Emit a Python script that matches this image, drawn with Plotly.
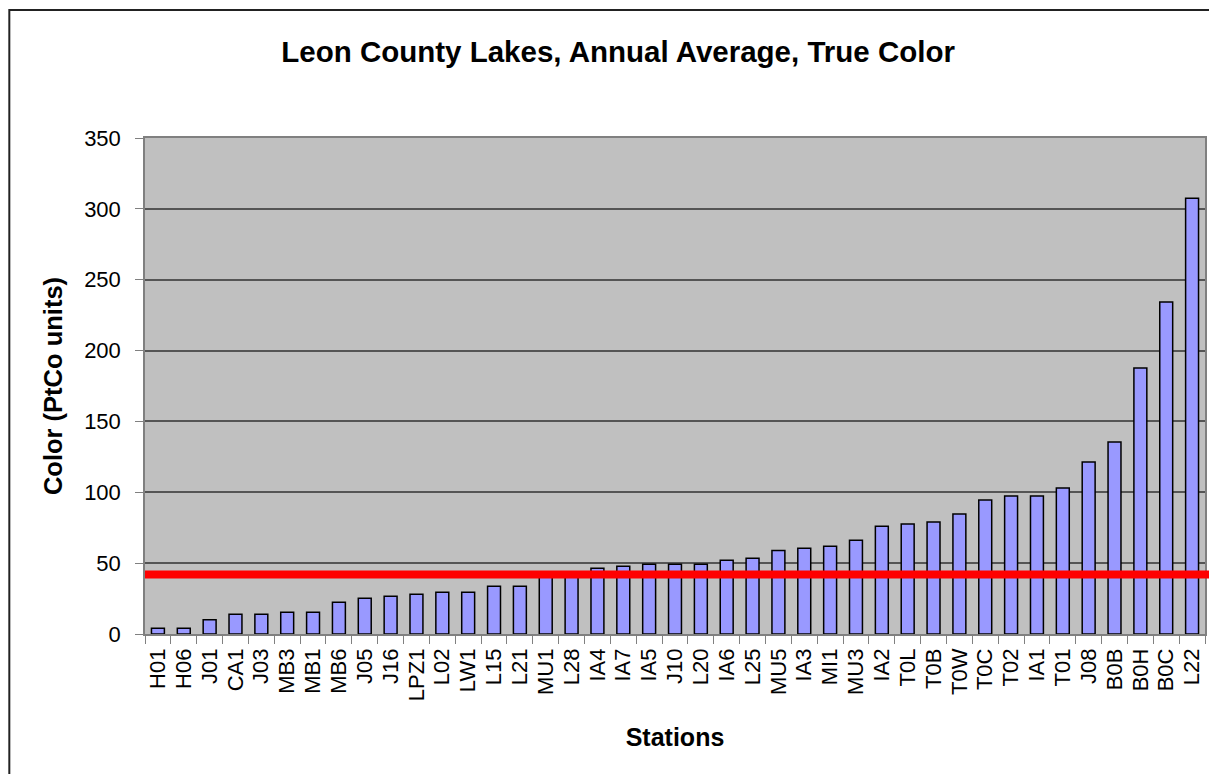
import plotly.graph_objects as go

stations = ['H01', 'H06', 'J01', 'CA1', 'J03', 'MB3', 'MB1', 'MB6', 'J05', 'J16',
            'LPZ1', 'L02', 'LW1', 'L15', 'L21', 'MU1', 'L28', 'IA4', 'IA7', 'IA5',
            'J10', 'L20', 'IA6', 'L25', 'MU5', 'IA3', 'MI1', 'MU3', 'IA2', 'T0L',
            'T0B', 'T0W', 'T0C', 'T02', 'IA1', 'T01', 'J08', 'B0B', 'B0H', 'B0C', 'L22']
color_avg = [4, 4, 10, 14, 14, 15.4, 15.4, 22.4, 25.3, 26.7,
             28, 29.5, 29.5, 33.7, 33.7, 41, 42, 46.4, 47.8, 49.3,
             49.3, 49.3, 52, 53.5, 59, 60.5, 62, 66.2, 76, 77.6,
             79, 84.7, 94.6, 97.4, 97.4, 103, 121.4, 135.5, 187.7, 234.3, 307.5]
threshold = 42
y_ticks = [0, 50, 100, 150, 200, 250, 300, 350]

font_family = 'Arial, Liberation Sans, sans-serif'

fig = go.Figure(data=[go.Bar(
    x=stations,
    y=color_avg,
    marker=dict(color='#9999FF', line=dict(color='#000000', width=1.5)),
    showlegend=False
)])

fig.add_shape(type='line', xref='paper', yref='y', x0=0, x1=1.01,
              y0=threshold, y1=threshold, line=dict(color='#FF0000', width=8))

# outer chart border
fig.add_shape(type='rect', xref='paper', yref='paper', x0=-0.128, x1=1.1,
              y0=-0.5, y1=1.258, line=dict(color='#222222', width=2), layer='below')

fig.update_layout(
    title=dict(text='<b>Leon County Lakes, Annual Average, True Color</b>',
               x=0.508, xanchor='center', y=0.9426, yanchor='middle',
               font=dict(size=29.5, color='black', family=font_family)),
    width=1201, height=766,
    margin=dict(l=137, r=2, t=130, b=140),
    bargap=0.5,
    plot_bgcolor='#C0C0C0',
    paper_bgcolor='white',
    font=dict(family=font_family, color='black', size=21),
    xaxis=dict(
        title=dict(text='<b>Stations</b>', font=dict(size=25), standoff=28),
        tickangle=-90, tickmode='array', tickvals=stations, ticktext=stations,
        ticks='outside', tickson='boundaries', ticklen=8, tickcolor='#808080',
        ticklabelstandoff=4,
        showgrid=False, showline=True, linecolor='#808080', linewidth=1.5,
        mirror=True, tickfont=dict(size=22)
    ),
    yaxis=dict(
        title=dict(text='<b>Color (PtCo units)</b>', font=dict(size=25.5), standoff=14),
        range=[0, 350], tickvals=y_ticks,
        ticks='outside', ticklen=8, tickcolor='#808080',
        ticklabelstandoff=10,
        showgrid=True, gridcolor='#555555', gridwidth=1.5,
        zeroline=False, showline=True, linecolor='#808080', linewidth=1.5,
        mirror=True, tickfont=dict(size=22)
    )
)

fig.write_html('out.html')
